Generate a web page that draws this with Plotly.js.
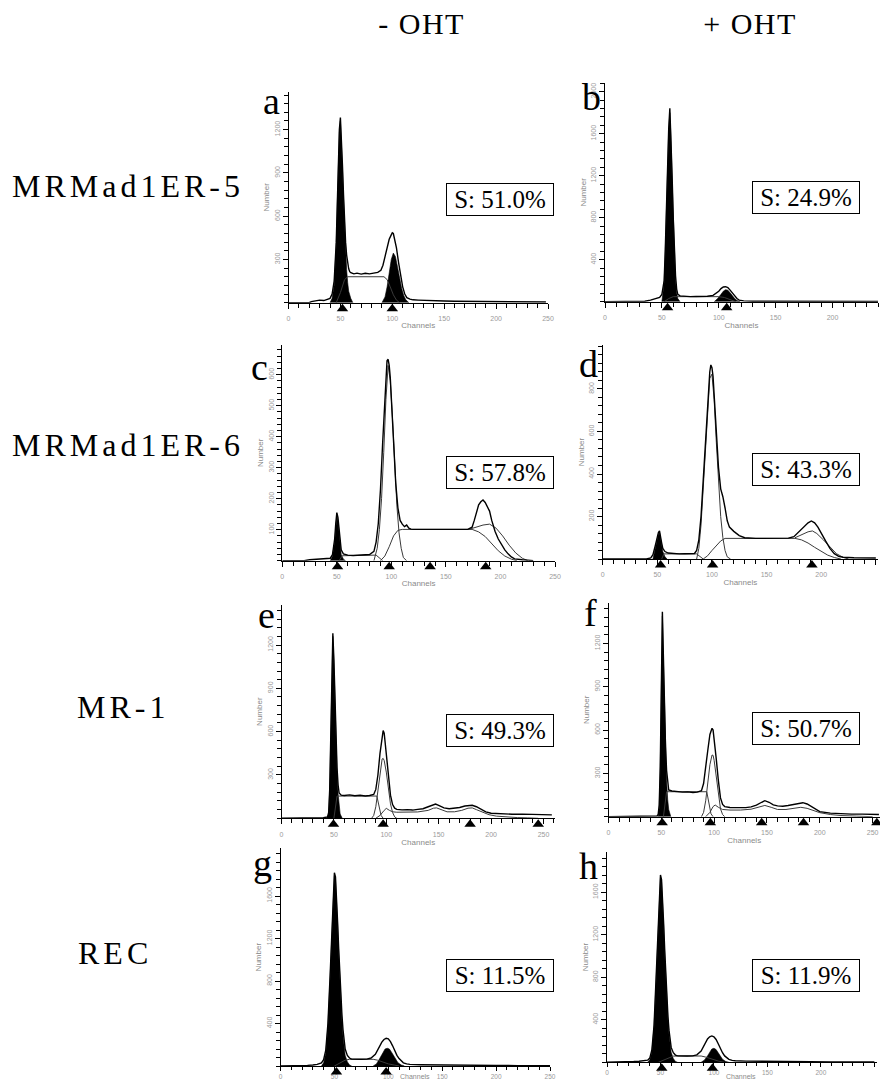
<!DOCTYPE html>
<html><head><meta charset="utf-8">
<script src="https://cdn.plot.ly/plotly-3.0.1.min.js"></script>
<style>body{margin:0;background:#fff}</style>
</head><body>
<div id="chart" style="width:880px;height:1081px"></div>
<script>
// ---------------- data ----------------
const colLabels = ['- OHT', '+ OHT'];
const rowLabels = ['MRMad1ER-5', 'MRMad1ER-6', 'MR-1', 'REC'];
const panelLetters = ['a','b','c','d','e','f','g','h'];
const sLabels = ['S: 51.0%','S: 24.9%','S: 57.8%','S: 43.3%','S: 49.3%','S: 50.7%','S: 11.5%','S: 11.9%'];
const xTickVals = [0, 50, 100, 150, 200, 250];
const xTickText = ['0', '50', '100', '150', '200', '250'];
const yTicksA = [300, 600, 900, 1200];
const yTicksB = [400, 800, 1200, 1600, 2000];
const yTicksC = [100, 200, 300, 400, 500, 600];
const yTicksD = [200, 400, 600, 800];
const yTicksE = [300, 600, 900, 1200];
const yTicksF = [300, 600, 900, 1200];
const yTicksG = [400, 800, 1200, 1600];
const yTicksH = [400, 800, 1200, 1600];
// peak markers (channels)
const markA = [52, 100];
const markB = [55, 107];
const markC = [50.6, 98, 135.5, 186.5];
const markD = [53, 100.6, 191.5];
const markE = [49.6, 97, 180, 245];
const markF = [50.8, 96.4, 145, 184.6, 254];
const markG = [51.9, 98];
const markH = [51.2, 98.6];

// histograms: [channel, number]
const aTotal = [[0,0],[20,0],[22,8],[26,12],[30,18],[34,15],[38,22],[40,30],[42,60],[44,150],[46,420],[47,700],[48,1000],[49,1200],[50,1284],[51,1150],[52,950],[53,750],[54,560],[55,420],[56,330],[57,270],[58,235],[59,215],[60,208],[63,200],[66,205],[70,198],[74,204],[78,200],[82,206],[86,210],[89,225],[91,260],[93,320],[95,390],[97,440],[99,470],[100,485],[101,480],[102,450],[104,380],[106,280],[108,180],[110,110],[112,60],[114,35],[117,25],[120,20],[125,18],[130,16],[140,14],[150,12],[160,10],[170,10],[180,9],[190,8],[200,8],[210,7],[220,6],[230,6],[240,5],[248,5]];
const aG1 = [[40,0],[42,30],[44,120],[46,400],[47,680],[48,980],[49,1180],[50,1260],[51,1130],[52,920],[53,720],[54,520],[55,360],[56,230],[57,140],[58,80],[60,30],[62,0]];
const aS = [[46,0],[50,70],[54,160],[57,180],[92,180],[95,160],[98,110],[101,55],[104,18],[107,0]];
const aG2 = [[90,0],[93,40],[95,110],[97,210],[99,300],[101,344],[103,320],[105,250],[107,170],[109,100],[111,50],[113,20],[116,0]];

const bTotal = [[0,0],[30,0],[35,5],[40,15],[44,25],[48,40],[50,70],[52,200],[53,500],[54,900],[55,1300],[56,1650],[57,1842],[58,1600],[59,1200],[60,800],[61,450],[62,250],[63,120],[64,70],[66,55],[70,50],[75,48],[80,50],[85,48],[90,52],[95,60],[98,80],[100,100],[102,125],[104,140],[106,143],[108,135],[110,110],[112,80],[114,50],[116,30],[118,15],[122,8],[130,5],[150,4],[170,3],[200,3],[230,2],[240,2]];
const bG1 = [[50,0],[52,180],[53,480],[54,880],[55,1280],[56,1620],[57,1800],[58,1560],[59,1150],[60,750],[61,400],[62,200],[63,80],[64,30],[66,0]];
const bS = [[52,0],[56,30],[60,48],[100,48],[105,40],[110,20],[115,0]];
const bG2 = [[96,0],[99,30],[102,70],[104,100],[106,115],[108,110],[110,85],[112,55],[114,30],[116,12],[119,0]];

const cTotal = [[0,0],[20,0],[25,3],[30,4],[35,5],[40,6],[44,8],[46,20],[48,70],[49,120],[50,155],[51,140],[52,100],[53,60],[54,35],[56,22],[60,18],[65,17],[70,18],[75,17],[80,20],[84,30],[86,60],[88,120],[90,230],[92,380],[94,530],[95,610],[96,645],[97,650],[98,630],[99,590],[100,520],[101,450],[102,370],[104,250],[106,170],[108,130],[110,118],[112,110],[114,115],[116,105],[118,102],[120,101],[170,101],[174,108],[176,130],[178,160],[180,180],[182,190],[184,196],[186,188],[188,175],[190,160],[192,130],[195,95],[198,70],[201,50],[204,35],[207,22],[210,12],[213,6],[216,4],[220,3],[225,2],[230,0]];
const cG1 = [[44,0],[46,15],[48,60],[49,110],[50,145],[51,130],[52,90],[53,50],[54,20],[56,5],[58,0]];
const cS1 = [[52,0],[55,16],[86,18],[89,8],[92,0]];
const cS2 = [[90,0],[94,15],[98,45],[102,80],[106,98],[110,101],[174,101],[180,93],[186,78],[192,55],[198,32],[204,15],[210,5],[215,0]];
const cG2 = [[84,0],[87,40],[89,100],[91,200],[93,350],[95,520],[97,630],[99,580],[101,460],[103,320],[105,180],[107,90],[109,40],[111,10],[114,0]];
const cG4 = [[172,102],[178,108],[184,115],[190,118],[196,105],[202,80],[208,50],[214,25],[220,8],[225,0]];

const dTotal = [[0,0],[40,0],[44,5],[46,20],[48,60],[50,105],[51,125],[52,132],[53,110],[54,75],[55,50],[57,35],[60,28],[65,25],[70,24],[75,25],[80,24],[84,26],[86,40],[88,90],[90,200],[92,380],[94,580],[96,760],[98,880],[99,913],[100,900],[101,860],[102,780],[104,600],[106,430],[108,330],[110,293],[112,240],[114,180],[116,150],[118,140],[120,130],[125,110],[130,100],[140,97],[170,98],[175,105],[180,130],[184,150],[188,170],[191,179],[194,170],[197,150],[200,120],[204,85],[208,50],[212,25],[216,12],[220,8],[230,6],[240,5],[250,5]];
const dG1 = [[46,0],[48,50],[50,95],[51,118],[52,125],[53,100],[54,65],[55,35],[57,10],[59,0]];
const dS1 = [[54,0],[56,24],[86,24],[89,10],[92,0]];
const dS2 = [[92,0],[96,15],[100,40],[104,65],[108,85],[112,97],[176,97],[182,90],[188,75],[194,55],[200,35],[206,18],[212,7],[218,0]];
const dG2 = [[86,0],[88,50],[90,160],[92,340],[94,540],[96,720],[98,850],[100,870],[102,750],[104,550],[106,350],[108,200],[110,100],[112,40],[114,10],[117,0]];
const dG4 = [[176,100],[182,115],[188,128],[192,132],[196,120],[202,90],[208,55],[214,25],[220,8],[225,0]];

const eTotal = [[0,0],[10,0],[20,3],[30,3],[40,4],[44,10],[45,40],[46,200],[47,500],[48,900],[49,1281],[50,1100],[51,800],[52,550],[53,350],[54,230],[55,175],[57,160],[60,158],[65,162],[70,156],[75,160],[80,155],[84,158],[88,165],[90,200],[92,300],[94,450],[96,580],[97,607],[98,590],[99,520],[100,420],[102,280],[104,160],[106,95],[108,70],[110,62],[115,58],[120,60],[125,57],[130,62],[135,66],[140,80],[145,97],[147,99],[150,90],[155,72],[160,66],[165,70],[170,75],[175,85],[180,92],[182,90],[186,80],[190,65],[195,45],[200,35],[210,30],[220,28],[230,29],[240,27],[250,25],[258,24]];
const eG1 = [[43,0],[45,30],[46,190],[47,480],[48,880],[49,1260],[50,1080],[51,780],[52,520],[53,310],[54,170],[55,80],[56,30],[58,0]];
const eS1 = [[50,0],[53,154],[91,154],[93,90],[95,20],[97,0]];
const eG2 = [[86,0],[88,20],[90,80],[92,200],[94,330],[96,410],[97,415],[98,400],[100,320],[102,200],[104,100],[106,40],[108,10],[110,0]];
const eS2 = [[90,0],[94,20],[98,55],[100,69],[103,55],[106,45],[110,42],[130,44],[140,55],[145,70],[148,72],[152,60],[158,45],[165,45],[172,55],[178,70],[182,72],[186,60],[192,40],[198,25],[205,15],[215,8],[225,5],[235,3],[245,0]];

const fTotal = [[0,0],[10,0],[20,2],[30,3],[40,3],[46,5],[47,15],[48,80],[49,350],[50,800],[51,1420],[52,1100],[53,750],[54,480],[55,320],[56,220],[57,185],[60,178],[65,173],[70,170],[75,172],[80,168],[84,170],[88,180],[90,230],[92,330],[94,460],[96,570],[98,612],[99,600],[100,540],[102,400],[104,250],[106,130],[108,85],[110,70],[115,64],[120,62],[125,60],[130,63],[135,68],[140,80],[145,100],[148,111],[152,100],[156,82],[160,75],[165,72],[170,78],[175,86],[180,92],[184,97],[188,88],[192,70],[196,50],[200,35],[210,25],[220,20],[230,18],[240,18],[250,16],[256,15]];
const fG1 = [[47,0],[48,60],[49,330],[50,780],[51,1390],[52,1070],[53,720],[54,440],[55,250],[56,120],[57,50],[59,0]];
const fS1 = [[52,0],[55,173],[93,173],[95,90],[97,20],[99,0]];
const fG2 = [[88,0],[90,30],[92,110],[94,240],[96,360],[98,427],[99,425],[100,390],[102,270],[104,140],[106,55],[108,15],[110,0]];
const fS2 = [[92,0],[96,30],[99,70],[101,81],[104,65],[108,50],[115,46],[125,46],[135,52],[142,65],[148,78],[154,65],[160,50],[168,50],[176,60],[182,65],[188,58],[194,42],[200,28],[210,15],[220,8],[235,4],[250,0]];

const gTotal = [[0,0],[15,0],[20,4],[25,6],[30,10],[34,15],[38,30],[40,60],[42,150],[44,400],[46,850],[48,1400],[49,1650],[50,1819],[51,1780],[52,1600],[53,1350],[54,1100],[55,850],[56,650],[57,480],[58,340],[59,230],[60,160],[62,100],[64,75],[66,65],[70,62],[75,63],[80,65],[84,75],[88,110],[90,150],[92,190],[94,225],[96,250],[98,261],[100,255],[102,230],[104,190],[106,140],[108,100],[110,70],[112,45],[114,30],[117,20],[120,15],[130,12],[140,10],[150,8],[160,8],[170,7],[180,6],[190,6],[200,5],[220,4],[240,4],[250,3]];
const gG1 = [[38,0],[40,30],[42,120],[44,370],[46,820],[48,1370],[49,1620],[50,1790],[51,1750],[52,1570],[53,1320],[54,1060],[55,800],[56,600],[57,420],[58,280],[59,170],[60,100],[62,40],[64,10],[66,0]];
const gS = [[50,0],[56,30],[60,55],[64,63],[86,63],[90,55],[96,35],[100,20],[106,8],[110,0]];
const gG2 = [[86,0],[89,20],[92,70],[95,130],[97,160],[99,167],[101,160],[103,130],[105,95],[107,60],[109,30],[112,10],[115,0]];

const hTotal = [[0,0],[15,0],[20,4],[25,7],[30,10],[35,14],[38,20],[40,40],[42,120],[44,350],[46,800],[48,1350],[49,1600],[50,1763],[51,1720],[52,1550],[53,1300],[54,1050],[55,800],[56,600],[57,430],[58,300],[59,200],[60,140],[62,90],[64,68],[66,60],[70,58],[75,59],[80,60],[84,70],[88,105],[90,145],[92,185],[94,220],[96,240],[98,248],[100,240],[102,215],[104,175],[106,130],[108,90],[110,60],[112,40],[114,28],[117,18],[120,14],[130,11],[140,9],[150,8],[160,7],[175,6],[190,5],[210,4],[230,4],[250,3]];
const hG1 = [[38,0],[40,25],[42,100],[44,330],[46,780],[48,1320],[49,1570],[50,1740],[51,1700],[52,1520],[53,1270],[54,1010],[55,760],[56,560],[57,390],[58,260],[59,160],[60,95],[62,35],[64,8],[66,0]];
const hS = [[48,0],[54,25],[58,48],[62,58],[66,59],[88,59],[92,50],[98,30],[104,12],[110,0]];
const hG2 = [[88,0],[91,20],[94,60],[96,100],[98,125],[100,132],[102,120],[104,90],[106,55],[108,28],[111,8],[114,0]];

// ---------------- layout geometry (pixels) ----------------
const W = 880, H = 1081;
const px = v => v / W, py = v => 1 - v / H;
const panels = [
  {x0:288.5, x1:548, xmax:250, top:92,    base:302.7, ymax:1461, yt:yTicksA, ym:60, mk:markA, fills:[aG1,aG2], fits:[aS], total:aTotal, sx:500,   sy:199,   lx:282, ly:101},
  {x0:605,   x1:878, xmax:240, top:83,    base:301.7, ymax:2083, yt:yTicksB, ym:80, mk:markB, fills:[bG1,bG2], fits:[bS], total:bTotal, sx:806,   sy:197.5, lx:603, ly:97},
  {x0:282.3, x1:555, xmax:250, top:345,   base:560.7, ymax:696,  yt:yTicksC, ym:20, mk:markC, fills:[cG1], fits:[cS1,cS2,cG2,cG4], total:cTotal, sx:500, sy:472, lx:270, ly:367},
  {x0:602.7, x1:878, xmax:252, top:345,   base:559,   ymax:1007, yt:yTicksD, ym:40, mk:markD, fills:[dG1], fits:[dS1,dS2,dG2,dG4], total:dTotal, sx:805.5, sy:469.5, lx:600, ly:364},
  {x0:281.5, x1:555, xmax:261, top:605,   base:818.3, ymax:1477, yt:yTicksE, ym:60, mk:markE, fills:[eG1], fits:[eS1,eG2,eS2], total:eTotal, sx:500, sy:730, lx:277, ly:615},
  {x0:608.5, x1:880, xmax:257, top:603,   base:816.7, ymax:1480, yt:yTicksF, ym:60, mk:markF, fills:[fG1], fits:[fS1,fG2,fS2], total:fTotal, sx:805.5, sy:728.5, lx:599, ly:613},
  {x0:280.5, x1:550, xmax:250, top:848.3, base:1066,  ymax:2049, yt:yTicksG, ym:80, mk:markG, fills:[gG1,gG2], fits:[gS], total:gTotal, sx:500, sy:975, lx:274, ly:863, bottom:true},
  {x0:607,   x1:876.5, xmax:252, top:851.7, base:1062.3, ymax:1982, yt:yTicksH, ym:80, mk:markH, fills:[hG1,hG2], fits:[hS], total:hTotal, sx:805.5, sy:975, lx:600, ly:866, bottom:true}
];

const tickFont = {family:'Liberation Sans, Arial', size:7, color:'#9a9a9a'};
const titleFont = {family:'Liberation Sans, Arial', size:8, color:'#8a8a8a'};
const serif = 'Liberation Serif, Times New Roman, serif';
const markerSize = 10;   // triangle-up
const stripPx = 14;      // height of the strip under each axis that holds the triangles
const markerDrop = 6;    // px from the axis line down to the triangle centre

const data = [];
const layout = {
  width: W, height: H, margin:{l:0,r:0,t:0,b:0},
  paper_bgcolor:'#fff', plot_bgcolor:'rgba(0,0,0,0)',
  showlegend:false, annotations:[]
};

panels.forEach((p, i) => {
  const n = i + 1, sfx = n === 1 ? '' : String(n);
  const xr = 'x' + sfx, yr = 'y' + sfx;
  const stripN = 8 + n, stripRef = 'y' + stripN;
  p.fills.forEach(c => data.push({
    type:'scatter', mode:'lines', xaxis:xr, yaxis:yr,
    x:c.map(d=>d[0]), y:c.map(d=>d[1]), fill:'tozeroy', fillcolor:'#000',
    line:{color:'#000', width:0.6}, hoverinfo:'skip'
  }));
  p.fits.forEach(c => data.push({
    type:'scatter', mode:'lines', xaxis:xr, yaxis:yr,
    x:c.map(d=>d[0]), y:c.map(d=>d[1]),
    line:{color:'#3a3a3a', width:1}, hoverinfo:'skip'
  }));
  data.push({
    type:'scatter', mode:'lines', xaxis:xr, yaxis:yr,
    x:p.total.map(d=>d[0]), y:p.total.map(d=>d[1]),
    line:{color:'#000', width:1.4}, hoverinfo:'skip'
  });
  // peak markers: triangles in a thin strip just under the axis line (strip axis is in px)
  data.push({
    type:'scatter', mode:'markers', xaxis:xr, yaxis:stripRef, cliponaxis:false,
    x:p.mk, y:p.mk.map(() => -markerDrop),
    marker:{symbol:'triangle-up', size:markerSize, color:'#000', line:{width:0}}, hoverinfo:'skip'
  });
  layout['yaxis' + stripN] = {
    domain:[py(p.base + stripPx), py(p.base)], range:[-stripPx, 0], anchor:xr,
    visible:false, showgrid:false, zeroline:false, fixedrange:true
  };
  layout['xaxis' + sfx] = {
    domain:[px(p.x0), px(p.x1)], range:[0, p.xmax], anchor:yr,
    showline:true, linecolor:'#000', linewidth:1, showgrid:false, zeroline:false,
    ticks:'outside', ticklen:p.bottom ? 4 : 5, tickcolor:'#000', tickwidth:1,
    ticklabelstandoff:p.bottom ? 0 : 4,
    tickmode:'array', tickvals:xTickVals, ticktext:xTickText,
    tickfont:p.bottom ? {family:tickFont.family, size:6.5, color:tickFont.color} : tickFont,
    minor:{tickmode:'linear', tick0:0, dtick:10, ticks:'outside', ticklen:p.bottom ? 3 : 4, tickcolor:'#000'},
    title:p.bottom ? {text:''} : {text:'Channels', font:titleFont, standoff:1}, fixedrange:true
  };
  if (p.bottom) {
    // the bottom row has no room under the tick labels, so the axis name sits between two labels
    layout.annotations.push({
      xref:xr, yref:'paper', x:125, y:py(1076), text:'Channels', showarrow:false,
      xanchor:'center', yanchor:'middle', font:{family:tickFont.family, size:7, color:'#8a8a8a'}, borderpad:0
    });
  }
  layout['yaxis' + sfx] = {
    domain:[py(p.base), py(p.top)], range:[0, p.ymax], anchor:xr,
    showline:true, linecolor:'#000', linewidth:1, showgrid:false, zeroline:false,
    ticks:'outside', ticklen:5, tickcolor:'#000', tickwidth:1,
    tickmode:'array', tickvals:p.yt, ticktext:p.yt.map(String), tickangle:-90, tickfont:tickFont,
    minor:{tickmode:'linear', tick0:0, dtick:p.ym, ticks:'outside', ticklen:4, tickcolor:'#000'},
    title:{text:'Number', font:titleFont, standoff:2}, fixedrange:true
  };
  // S-phase box
  layout.annotations.push({
    xref:'paper', yref:'paper', x:px(p.sx), y:py(p.sy), text:sLabels[i], showarrow:false,
    xanchor:'center', yanchor:'middle', width:104, height:29, borderpad:1,
    bordercolor:'#000', borderwidth:1, bgcolor:'#fff',
    font:{family:serif, size:25, color:'#000'}
  });
  // panel letter
  layout.annotations.push({
    xref:'paper', yref:'paper', x:px(p.lx), y:py(p.ly), text:panelLetters[i], showarrow:false,
    xanchor:'right', yanchor:'middle', font:{family:serif, size:38, color:'#000'}
  });
});

// column and row labels
[[421, 23], [750, 23]].forEach((c, k) => layout.annotations.push({
  xref:'paper', yref:'paper', x:px(c[0]), y:py(c[1]), text:colLabels[k], showarrow:false,
  xanchor:'center', yanchor:'middle', font:{family:serif, size:30, color:'#000'}
}));
[[128, 186], [128, 445], [123, 707], [115, 953]].forEach((c, k) => layout.annotations.push({
  xref:'paper', yref:'paper', x:px(c[0]), y:py(c[1]), text:rowLabels[k], showarrow:false,
  xanchor:'center', yanchor:'middle', font:{family:serif, size:32, color:'#000'}
}));

Plotly.newPlot('chart', data, layout, {staticPlot:true, displayModeBar:false}).then(gd => {
  gd.querySelectorAll('.annotation-text').forEach(t => {
    const s = t.textContent;
    if (rowLabels.includes(s)) t.style.letterSpacing = '4px';
    if (colLabels.includes(s)) t.style.letterSpacing = '1.5px';
  });
});
</script>
</body></html>
